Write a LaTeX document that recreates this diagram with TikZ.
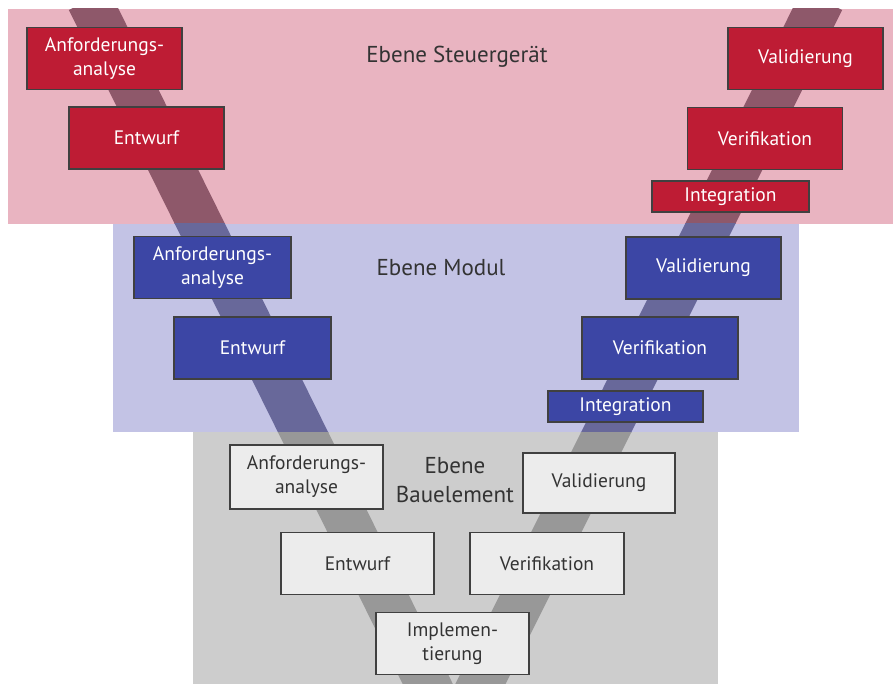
\documentclass[tikz,border=0pt]{standalone}
\usepackage{fontspec}
\setmainfont{PT Sans}
\definecolor{bandsg}{RGB}{233,180,193}
\definecolor{bandmod}{RGB}{195,195,229}
\definecolor{bandbau}{RGB}{205,205,205}
\definecolor{vsg}{RGB}{142,88,106}
\definecolor{vmod}{RGB}{104,104,154}
\definecolor{vbau}{RGB}{152,152,152}
\definecolor{boxsg}{RGB}{190,28,52}
\definecolor{boxmod}{RGB}{60,70,165}
\definecolor{boxbau}{RGB}{236,236,236}

\begin{document}
\begin{tikzpicture}[x=1pt,y=-1pt,
    stufe/.style={draw=black!75, line width=1.1pt, align=center, inner sep=0pt,
      minimum width=155, minimum height=62, font=\fontsize{19.5}{24}\selectfont},
    sgbox/.style={stufe, fill=boxsg, text=white},
    modbox/.style={stufe, fill=boxmod, text=white},
    baubox/.style={stufe, fill=boxbau, text=black!80},
    intbox/.style={minimum height=31},
    ebene/.style={font=\fontsize{23}{29}\selectfont, text=black!80, align=center}]
  \useasboundingbox (0,0) rectangle (893,684);

  % Ebenen
  \fill [bandsg] (8,9) rectangle (893,224);
  \fill [bandmod] (113,224) rectangle (799,432);
  \fill [bandbau] (193,432) rectangle (718,684);

  % V-Band, je Ebene eingefaerbt
  \foreach \col/\xa/\ya/\xb/\yb in {vsg/8/9/893/224, vmod/113/224/799/432, vbau/193/432/718/684}
  {
    \begin{scope}
      \clip (\xa,\ya) rectangle (\xb,\yb);
      \draw [\col, line width=45pt, line join=miter] (89,0) -- (454,737) -- (822,0);
    \end{scope}
  }

  % Ebene Steuergeraet
  \node [ebene] (lsg) at (457,57) {Ebene Steuergerät};
  \node [sgbox] (sgAnf) at (104.5,58.5) {Anforderungs-\\analyse};
  \node [sgbox] (sgEnt) at (146.5,138) {Entwurf};
  \node [sgbox] (sgVal) at (805.5,58.5) {Validierung};
  \node [sgbox] (sgVer) at (765,138.5) {Verifikation};
  \node [sgbox, intbox, minimum width=157] (sgInt) at (730.5,196.5) {Integration};

  % Ebene Modul
  \node [ebene] (lmod) at (441,268) {Ebene Modul};
  \node [modbox, minimum width=157] (modAnf) at (212.5,267.5) {Anforderungs-\\analyse};
  \node [modbox, minimum width=157] (modEnt) at (252.5,348) {Entwurf};
  \node [modbox] (modVal) at (703.5,268) {Validierung};
  \node [modbox, minimum width=156] (modVer) at (660,348) {Verifikation};
  \node [modbox, intbox] (modInt) at (625.5,406.5) {Integration};

  % Ebene Bauelement
  \node [ebene] (lbau) at (455,480) {Ebene\\Bauelement};
  \node [baubox, minimum width=153, minimum height=64] (bauAnf) at (306.5,477) {Anforderungs-\\analyse};
  \node [baubox, minimum width=152, minimum height=60] (bauVal) at (599,483) {Validierung};
  \node [baubox, minimum width=153] (bauEnt) at (357.5,563.5) {Entwurf};
  \node [baubox, minimum width=154] (bauVer) at (547,563.5) {Verifikation};
  \node [baubox, minimum width=153] (bauImp) at (452.5,643.5) {Implemen-\\tierung};
\end{tikzpicture}
\end{document}
